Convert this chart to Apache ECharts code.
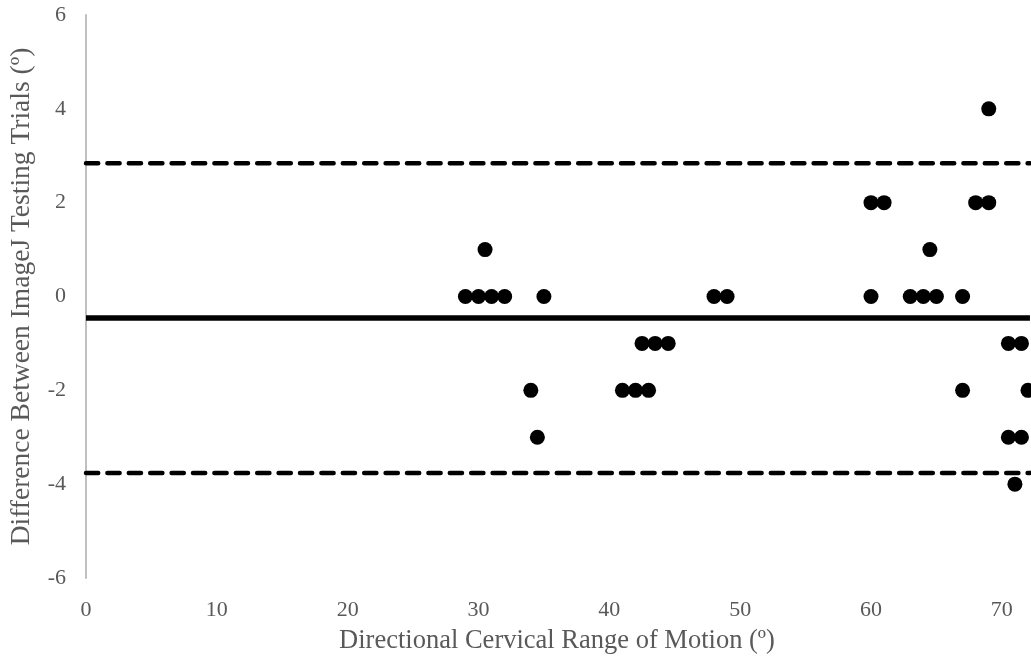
<!DOCTYPE html>
<html>
<head>
<meta charset="utf-8">
<script src="https://cdn.jsdelivr.net/npm/echarts@6/dist/echarts.min.js"></script>
<style>
  html, body { margin: 0; padding: 0; background: #ffffff; }
  #chart { width: 1031px; height: 661px; }
</style>
</head>
<body>
<div id="chart"></div>
<script>
// Bland-Altman style plot: mean range of motion vs. difference between trials
const rangeOfMotion = [
  29, 30, 31, 32, 30.5, 35, 34, 34.5,
  41, 42, 43, 42.5, 43.5, 44.5, 48, 49,
  60, 60, 61, 63, 64, 65, 64.5, 67, 67,
  68, 69, 69, 70.5, 71.5, 72, 70.5, 71.5, 71
];
const trialDifference = [
  0, 0, 0, 0, 1, 0, -2, -3,
  -2, -2, -2, -1, -1, -1, 0, 0,
  0, 2, 2, 0, 0, 0, 1, 0, -2,
  2, 2, 4, -1, -1, -2, -3, -3, -4
];

// Mean difference and 95% limits of agreement
const biasMean = -0.46;
const loaUpper = 2.84;
const loaLower = -3.76;

const xTicks = [0, 10, 20, 30, 40, 50, 60, 70];
const yTicks = [-6, -4, -2, 0, 2, 4, 6];

const xMin = 0, xMax = 72, yMin = -6, yMax = 6;
const lineEnd = 72.15;

const textColor = '#595959';
const fontFamily = '"Liberation Serif", "Times New Roman", serif';

const points = rangeOfMotion.map((x, i) => [x, trialDifference[i]]);

const chart = echarts.init(document.getElementById('chart'), null, { renderer: 'canvas' });

chart.setOption({
  backgroundColor: '#ffffff',
  animation: false,
  grid: { left: 86, right: 2, top: 15, bottom: 83, containLabel: false },
  xAxis: {
    type: 'value',
    min: xMin,
    max: xMax,
    interval: 10,
    name: 'Directional Cervical Range of Motion (º)',
    nameLocation: 'middle',
    nameGap: 50,
    nameTextStyle: { color: textColor, fontFamily: fontFamily, fontSize: 26.5 },
    axisLine: { show: false },
    axisTick: { show: false },
    splitLine: { show: false },
    axisLabel: {
      color: textColor, fontFamily: fontFamily, fontSize: 22, margin: 21,
      formatter: v => xTicks.includes(v) ? String(v) : ''
    }
  },
  yAxis: {
    type: 'value',
    min: yMin,
    max: yMax,
    interval: 2,
    name: 'Difference Between ImageJ Testing Trials (º)',
    nameLocation: 'middle',
    nameGap: 50,
    nameTextStyle: { color: textColor, fontFamily: fontFamily, fontSize: 27.5 },
    axisLine: { show: true, onZero: false, lineStyle: { color: '#bfbfbf', width: 2 } },
    axisTick: { show: false },
    splitLine: { show: false },
    axisLabel: {
      color: textColor, fontFamily: fontFamily, fontSize: 22, margin: 20,
      formatter: v => yTicks.includes(v) ? String(v) : ''
    }
  },
  series: [
    {
      name: 'Upper limit',
      type: 'line',
      clip: false,
      symbol: 'none',
      data: [[xMin, loaUpper], [lineEnd, loaUpper]],
      lineStyle: { color: '#000000', width: 4.5, type: [12.2, 9.2], cap: 'round' },
      z: 2
    },
    {
      name: 'Lower limit',
      type: 'line',
      clip: false,
      symbol: 'none',
      data: [[xMin, loaLower], [lineEnd, loaLower]],
      lineStyle: { color: '#000000', width: 4.5, type: [12.2, 9.2], cap: 'round' },
      z: 2
    },
    {
      name: 'Mean',
      type: 'line',
      clip: false,
      symbol: 'none',
      data: [[xMin, biasMean], [lineEnd, biasMean]],
      lineStyle: { color: '#000000', width: 5.5 },
      z: 2
    },
    {
      name: 'Differences',
      type: 'scatter',
      clip: false,
      symbol: 'circle',
      symbolSize: 15,
      itemStyle: { color: '#000000', opacity: 1 },
      data: points,
      z: 3
    }
  ]
});
</script>
</body>
</html>
